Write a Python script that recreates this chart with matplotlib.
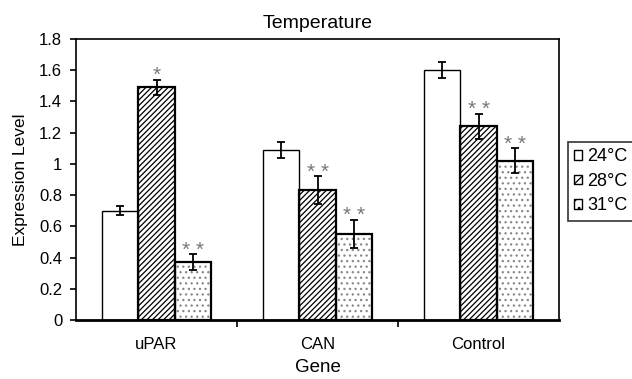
import numpy as np
import matplotlib.pyplot as plt

plt.rcParams['font.family'] = ['Liberation Sans', 'DejaVu Sans']
plt.rcParams['hatch.linewidth'] = 0.9

genes = ['uPAR', 'CAN', 'Control']
temps = ['24°C', '28°C', '31°C']
valores = [
    [0.70, 1.09, 1.60],
    [1.49, 0.83, 1.24],
    [0.37, 0.55, 1.02],
]
erros = [
    [0.03, 0.05, 0.05],
    [0.05, 0.09, 0.08],
    [0.05, 0.09, 0.08],
]
marcas = [
    ['', '', ''],
    ['*', '**', '**'],
    ['**', '**', '**'],
]
hachuras = ['', '//////', '...']
cor_hachura = ['black', 'black', '#888888']
espessura = [1.0, 1.6, 1.6]

fig = plt.figure(figsize=(6.32, 3.79), dpi=100)
ax = fig.add_axes([0.1203, 0.1557, 0.7642, 0.7414])

x = np.arange(len(genes))
w = 0.224
for i in range(3):
    pos = x + (i - 1) * w
    # hachura (pode ser cinza) e depois o contorno preto por cima
    ax.bar(pos, valores[i], w, color='white', edgecolor=cor_hachura[i], linewidth=0,
           hatch=hachuras[i], zorder=2)
    ax.bar(pos, valores[i], w, fill=False, edgecolor='black', linewidth=espessura[i],
           zorder=3, yerr=erros[i], capsize=3,
           error_kw=dict(elinewidth=1.3, capthick=1.3, ecolor='black', zorder=4))
    for p, v, e, m in zip(pos, valores[i], erros[i], marcas[i]):
        if m:
            ax.annotate(' '.join(m), (p, v + e), xytext=(0, -1), textcoords='offset points',
                        ha='center', va='baseline', fontsize=15, color='#777777', zorder=5)

ax.set_ylim(0, 1.8)
ax.set_yticks(np.arange(0, 1.81, 0.2))
ax.set_yticklabels(['0', '0.2', '0.4', '0.6', '0.8', '1', '1.2', '1.4', '1.6', '1.8'])
ax.set_xlim(-0.5, 2.5)
ax.set_xticks(x)
ax.set_xticklabels(genes)
ax.set_xticks([0.5, 1.5], minor=True)
ax.tick_params(axis='x', which='major', length=0, pad=12)
ax.tick_params(axis='x', which='minor', length=5, direction='out', width=1.2)
ax.tick_params(axis='y', length=4, direction='out', width=1.2, pad=6)
ax.tick_params(labelsize=12)
for s in ['top', 'right', 'left']:
    ax.spines[s].set_linewidth(1.2)
ax.spines['bottom'].set_linewidth(2)

ax.set_title('Temperature', fontsize=14, pad=8)
ax.set_xlabel('Gene', fontsize=13.5, labelpad=5)
ax.set_ylabel('Expression Level', fontsize=12.5, labelpad=8)

proxies = [plt.Rectangle((0, 0), 1, 1, facecolor='white', edgecolor='black',
                         hatch=h, linewidth=1.0) for h in ['', '////', '..']]
leg = fig.legend(proxies, temps, loc='upper left', bbox_to_anchor=(568 / 632, 0.6253),
                 frameon=True, fancybox=False, edgecolor='black', fontsize=13,
                 handlelength=0.42, handleheight=0.42, handletextpad=0.3,
                 borderpad=0.35, labelspacing=0.42, borderaxespad=0)
leg.get_frame().set_linewidth(1.2)

plt.savefig('out.png', dpi=100)
